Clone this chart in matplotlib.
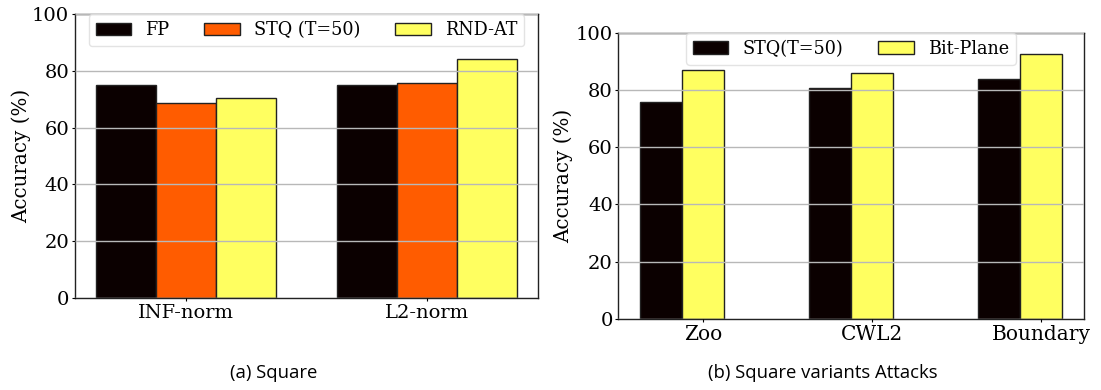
import matplotlib
matplotlib.use("Agg")
import matplotlib.pyplot as plt
import numpy as np

# Data
left_categories = ["INF-norm", "L2-norm"]
left_series = ["FP", "STQ (T=50)", "RND-AT"]
fp_vals = [75.0, 75.1]
stq_vals = [68.5, 75.6]
rnd_vals = [70.3, 84.3]

right_categories = ["Zoo", "CWL2", "Boundary"]
right_series = ["STQ(T=50)", "Bit-Plane"]
stq2_vals = [75.7, 80.6, 83.8]
bitplane_vals = [87.0, 85.9, 92.4]

yticks = [0, 20, 40, 60, 80, 100]

c_black = "#0b0000"
c_orange = "#ff5c00"
c_yellow = "#ffff60"

plt.rcParams["font.family"] = ["DejaVu Serif"]
W_PX, H_PX = 1101, 390
fig = plt.figure(figsize=(W_PX / 100, H_PX / 100), dpi=100)

fs_tick = 14
fs_leg = 12.7
fs_lab = 14.3
W = 0.25

def style(ax, xfs):
    ax.set_ylim(0, 100)
    ax.set_yticks(yticks)
    ax.tick_params(axis="y", labelsize=fs_tick, length=2.5, width=0.8, pad=1.5)
    ax.tick_params(axis="x", labelsize=xfs, length=2.5, width=0.8, pad=1.5)
    ax.yaxis.grid(True, color="#b8b8b8", linewidth=1.0)
    ax.set_axisbelow(False)
    for s in ax.spines.values():
        s.set_linewidth(1.0)
        s.set_color("#222222")

def rect(l, r, t, b):
    return [l / W_PX, 1 - b / H_PX, (r - l) / W_PX, (b - t) / H_PX]

# Left axes
L1, R1 = 74.6, 538.3
ax1 = fig.add_axes(rect(L1, R1, 14, 298))
x1 = np.arange(len(left_categories))
ax1.bar(x1 - W, fp_vals, W, color=c_black, edgecolor="#222222", linewidth=1.0, label=left_series[0])
ax1.bar(x1, stq_vals, W, color=c_orange, edgecolor="#222222", linewidth=1.0, label=left_series[1])
ax1.bar(x1 + W, rnd_vals, W, color=c_yellow, edgecolor="#222222", linewidth=1.0, label=left_series[2])
ax1.set_xticks(x1)
ax1.set_xticklabels(left_categories)
style(ax1, 14)
ax1.legend(loc="upper center", bbox_to_anchor=(0.5, 1.0), ncol=3, fontsize=fs_leg,
           borderaxespad=0, frameon=True, edgecolor="#dddddd")
ax1.set_ylabel("Accuracy (%)", fontsize=fs_lab)
ax1.yaxis.set_label_coords((31 - L1) / (R1 - L1), 0.5)

# Right axes
L2, R2 = 618.4, 1083.6
ax2 = fig.add_axes(rect(L2, R2, 32.7, 319))
x2 = np.arange(len(right_categories))
ax2.bar(x2 - W / 2, stq2_vals, W, color=c_black, edgecolor="#222222", linewidth=1.0, label=right_series[0])
ax2.bar(x2 + W / 2, bitplane_vals, W, color=c_yellow, edgecolor="#222222", linewidth=1.0, label=right_series[1])
ax2.set_xticks(x2 + W / 2)
ax2.set_xticklabels(right_categories)
ax2.set_xlim(-0.375, 2.375)
style(ax2, 14.5)
ax2.legend(loc="upper center", bbox_to_anchor=(0.5, 1.0), ncol=2, fontsize=fs_leg,
           borderaxespad=0, frameon=True, edgecolor="#dddddd")
ax2.set_ylabel("Accuracy (%)", fontsize=fs_lab)
ax2.yaxis.set_label_coords((573 - L2) / (R2 - L2), 0.5)

fig.text(274 / W_PX, 1 - 373.5 / H_PX, "(a) Square", ha="center", va="center", fontsize=13.3,
         family=["Open Sans", "DejaVu Sans"])
fig.text(823 / W_PX, 1 - 372.5 / H_PX, "(b) Square variants Attacks", ha="center", va="center",
         fontsize=13.3, family=["Open Sans", "DejaVu Sans"])

fig.savefig("out.png", dpi=100)
